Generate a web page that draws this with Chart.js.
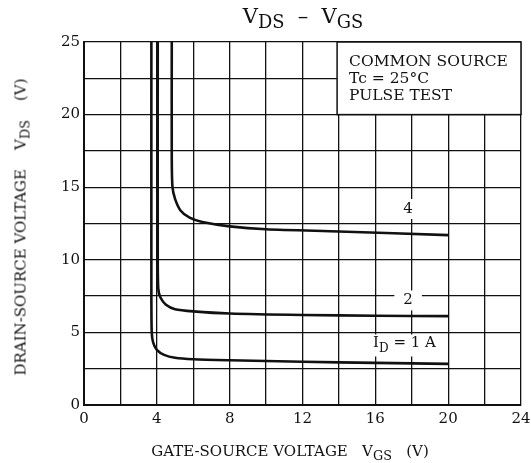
<!DOCTYPE html>
<html>
<head>
<meta charset="UTF-8">
<title>VDS - VGS</title>
<script src="https://cdn.jsdelivr.net/npm/chart.js@4/dist/chart.umd.min.js"></script>
<style>
  body { margin: 0; background: #fff; }
  #wrap { position: relative; width: 531px; height: 463px; font-family: "DejaVu Serif", "Liberation Serif", serif; color: #111; }
  canvas { position: absolute; left: 0; top: 0; }
  .lbl { position: absolute; white-space: nowrap; line-height: 1; }
  #title { left: 303px; top: 6px; transform: translateX(-50%); font-size: 21px; }
  #xlab { left: 290px; top: 444px; transform: translateX(-50%); font-size: 15px; }
  #ylab { left: 21px; top: 227px; transform: translate(-50%, -50%) rotate(-90deg); font-size: 15px; }
  sub { font-size: 0.85em; vertical-align: -0.3em; line-height: 0; }
</style>
</head>
<body>
<div id="wrap">
  <canvas id="c" width="531" height="463"></canvas>
  <div class="lbl" id="title">V<sub>DS</sub> &nbsp;&ndash;&nbsp; V<sub>GS</sub></div>
  <div class="lbl" id="xlab">GATE-SOURCE VOLTAGE&nbsp;&nbsp;&nbsp;V<sub>GS</sub>&nbsp;&nbsp;&nbsp;(V)</div>
  <div class="lbl" id="ylab">DRAIN-SOURCE VOLTAGE&nbsp;&nbsp;&nbsp;&nbsp;V<sub>DS</sub>&nbsp;&nbsp;&nbsp;&nbsp;(V)</div>
</div>
<script>
// curves (VGS, VDS)
const vgs1 = [3.7, 3.7, 3.72, 3.8, 4.0, 4.4, 5.0, 6.0, 8.0, 12, 16, 20];
const vds1 = [25, 8, 5.0, 4.3, 3.8, 3.45, 3.25, 3.15, 3.08, 2.98, 2.9, 2.83];
const vgs2 = [4.05, 4.05, 4.08, 4.2, 4.5, 5.0, 6.0, 8.0, 12, 16, 20];
const vds2 = [25, 10, 8.0, 7.4, 6.9, 6.6, 6.45, 6.3, 6.2, 6.15, 6.12];
const vgs4 = [4.82, 4.82, 4.86, 5.0, 5.3, 5.8, 6.5, 8.0, 10, 14, 20];
const vds4 = [25, 17, 15.0, 14.2, 13.4, 12.9, 12.6, 12.3, 12.1, 11.95, 11.7];

const curveLabels = [
  { text: '4', x: 17.8, y: 13.5 },
  { text: '2', x: 17.8, y: 7.2 },
  { text: 'ID = 1 A', x: 17.6, y: 4.1 }
];
const noteLines = ['COMMON SOURCE', 'Tc = 25\u00B0C', 'PULSE TEST'];

const xTicks = [0, 4, 8, 12, 16, 20, 24];
const yTicks = [0, 5, 10, 15, 20, 25];

function pts(xs, ys) { return xs.map((x, i) => ({ x: x, y: ys[i] })); }

const serif = '"DejaVu Serif", "Liberation Serif", serif';

const overlay = {
  id: 'overlay',
  afterDatasetsDraw(chart) {
    const ctx = chart.ctx;
    const xs = chart.scales.x, ys = chart.scales.y;
    ctx.save();
    // note box in top right corner
    const bx = xs.getPixelForValue(13.9), by = ys.getPixelForValue(25);
    const bw = xs.getPixelForValue(24) - bx, bh = ys.getPixelForValue(20) - by;
    ctx.fillStyle = '#fff';
    ctx.fillRect(bx, by, bw, bh);
    ctx.strokeStyle = '#111';
    ctx.lineWidth = 1.5;
    ctx.strokeRect(bx, by, bw, bh);
    ctx.fillStyle = '#111';
    ctx.font = '15.5px ' + serif;
    ctx.textBaseline = 'alphabetic';
    noteLines.forEach((t, i) => ctx.fillText(t, bx + 12, by + 24 + i * 17));

    // curve labels with white knockout
    ctx.font = '15px ' + serif;
    ctx.textAlign = 'center';
    ctx.textBaseline = 'middle';
    curveLabels.forEach(l => {
      const px = xs.getPixelForValue(l.x), py = ys.getPixelForValue(l.y);
      let w;
      if (l.text.startsWith('ID')) {
        // I with subscript D
        const rest = ' = 1 A';
        const wI = ctx.measureText('I').width;
        ctx.font = '12px ' + serif;
        const wD = ctx.measureText('D').width;
        ctx.font = '15px ' + serif;
        const wR = ctx.measureText(rest).width;
        w = wI + wD + wR;
        ctx.fillStyle = '#fff';
        ctx.fillRect(px - w / 2 - 10, py - 11, w + 20, 22);
        ctx.fillStyle = '#111';
        ctx.textAlign = 'left';
        let cx = px - w / 2;
        ctx.fillText('I', cx, py - 2); cx += wI;
        ctx.font = '12px ' + serif;
        ctx.fillText('D', cx, py + 3); cx += wD;
        ctx.font = '15px ' + serif;
        ctx.fillText(rest, cx, py - 2);
        ctx.textAlign = 'center';
      } else {
        w = ctx.measureText(l.text).width;
        ctx.fillStyle = '#fff';
        ctx.fillRect(px - w / 2 - 9, py - 10, w + 18, 20);
        ctx.fillStyle = '#111';
        ctx.fillText(l.text, px, py);
      }
    });
    ctx.restore();
  }
};

const lineStyle = { borderColor: '#111', borderWidth: 2.6, pointRadius: 0, tension: 0.25, fill: false };

new Chart(document.getElementById('c'), {
  type: 'line',
  data: {
    datasets: [
      Object.assign({ label: '1 A', data: pts(vgs1, vds1) }, lineStyle),
      Object.assign({ label: '2 A', data: pts(vgs2, vds2) }, lineStyle),
      Object.assign({ label: '4 A', data: pts(vgs4, vds4) }, lineStyle)
    ]
  },
  options: {
    responsive: false,
    animation: false,
    layout: { padding: { left: 0, top: 42, right: 10, bottom: 0 } },
    plugins: { legend: { display: false }, tooltip: { enabled: false } },
    scales: {
      x: {
        type: 'linear', min: 0, max: 24,
        afterFit(s) { s.height = 58; s.paddingRight = 0; s.paddingLeft = 0; },
        border: { color: '#111', width: 2 },
        grid: { color: '#111', lineWidth: 1.3, drawTicks: false },
        ticks: {
          stepSize: 2, padding: 5, color: '#111', font: { family: serif, size: 15 },
          callback: v => xTicks.includes(v) ? String(v) : ''
        }
      },
      y: {
        type: 'linear', min: 0, max: 25,
        afterFit(s) { s.width = 84; s.paddingTop = 0; s.paddingBottom = 0; },
        border: { color: '#111', width: 2 },
        grid: { color: '#111', lineWidth: 1.3, drawTicks: false },
        ticks: {
          stepSize: 2.5, padding: 4, color: '#111', font: { family: serif, size: 15 },
          callback: v => yTicks.includes(v) ? String(v) : ''
        }
      }
    }
  },
  plugins: [overlay]
});
</script>
</body>
</html>
